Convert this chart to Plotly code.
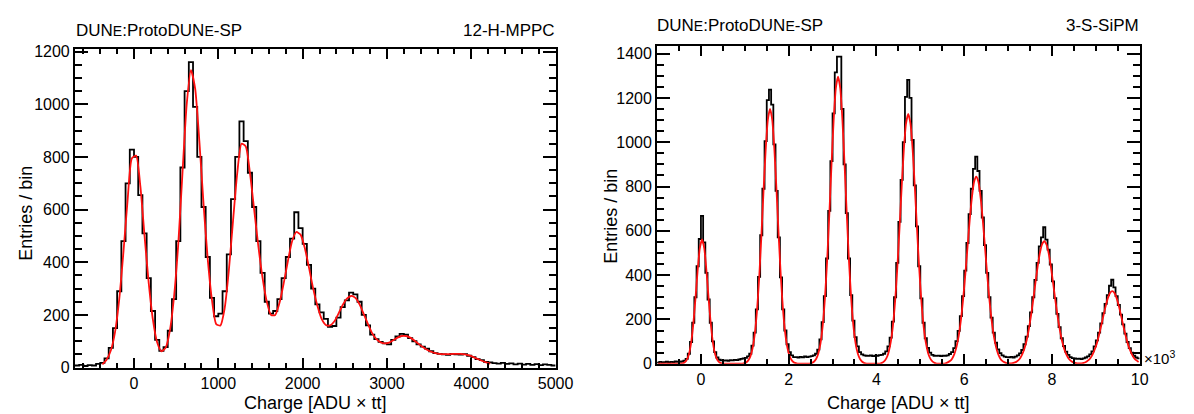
import plotly.graph_objects as go

# ---------------- data ----------------
# Left panel: 12-H-MPPC, bins of 50 ADU x tt starting at -700
left_bin_start = -700
left_bin_width = 50
left_counts = [
    8, 10, 6, 9, 8, 14, 18, 35, 75, 150,
    290, 480, 700, 828, 800, 655, 510, 340, 215, 105,
    64, 78, 140, 260, 480, 760, 1050, 1160, 990, 800,
    610, 420, 265, 195, 205, 290, 430, 640, 800, 935,
    860, 740, 610, 480, 360, 250, 205, 215, 260, 340,
    420, 490, 590, 530, 470, 390, 300, 240, 210, 185,
    155, 158, 190, 230, 255, 285, 278, 250, 200, 160,
    125, 108, 98, 92, 88, 105, 118, 128, 125, 112,
    100, 88, 80, 72, 62, 55, 52, 50, 48, 52,
    50, 49, 51, 45, 40, 32, 28, 22, 20, 17,
    15, 18, 14, 16, 12, 15, 11, 14, 10, 13,
    9, 12, 10, 8,
]
left_fit = [None] * 6 + [
    12, 30, 65, 135, 260, 440, 640, 795, 805, 690,
    500, 320, 180, 95, 62, 75, 140, 270, 470, 740,
    1000, 1130, 1060, 860, 620, 410, 255, 165, 160, 225,
    370, 560, 740, 850, 840, 740, 600, 460, 340, 250,
    200, 200, 245, 320, 405, 480, 515, 505, 455, 380,
    300, 235, 185, 162, 160, 175, 205, 238, 262, 272,
    265, 240, 203, 165, 130, 108, 96, 92, 95, 104,
    114, 120, 120, 114, 103, 90, 78, 68, 60, 55,
    52, 51, 51, 52, 52, 52, 50, 46, 40, 33,
    26, 20, 15,
] + [None] * 15

# Right panel: 3-S-SiPM, bins of 50 ADU x tt starting at -1000
right_bin_start = -1000
right_bin_width = 50
right_counts = (
    [5, 8, 6, 7, 9, 6, 8, 7, 10, 8, 9]
    + [10, 14, 22, 45, 98, 185, 300, 440, 563, 667, 548, 410, 290, 185, 101, 52, 28, 18, 15]
    + [14, 15, 13, 16, 15, 17, 16, 19, 22]
    + [24, 26, 33, 45, 82, 140, 245, 392, 580, 790, 1005, 1190, 1237, 1170, 990, 780, 570, 390, 245, 150, 88, 52, 38, 30, 30]
    + [28, 31, 29, 33, 30, 32]
    + [34, 38, 45, 64, 110, 188, 305, 475, 690, 915, 1130, 1315, 1386, 1386, 1150, 900, 680, 475, 310, 195, 120, 78, 52, 42, 38]
    + [36, 35, 38, 34, 37, 36, 39]
    + [40, 45, 56, 78, 118, 190, 300, 455, 640, 830, 1000, 1205, 1281, 1200, 1010, 805, 620, 440, 295, 185, 115, 72, 50, 40, 36]
    + [35, 37, 34, 36]
    + [36, 38, 44, 52, 70, 102, 148, 215, 305, 420, 545, 675, 790, 880, 935, 870, 780, 660, 535, 410, 300, 208, 140, 95, 65, 48, 38, 32, 30]
    + [29, 31]
    + [28, 32, 38, 47, 62, 88, 122, 170, 232, 300, 378, 455, 530, 570, 616, 560, 515, 448, 372, 296, 225, 165, 115, 80, 55, 40, 30, 25, 24]
    + [22, 23, 21]
    + [24, 28, 33, 42, 56, 78, 105, 140, 182, 228, 270, 310, 352, 379, 345, 305, 265, 222, 178, 136, 98, 70, 50, 36, 28, 24]
)
right_fit = (
    [0] * 11
    + [2, 6, 17, 42, 93, 178, 294, 421, 522, 561, 522, 421, 294, 178, 93, 42, 17, 6, 2]
    + [0] * 9
    + [2, 5, 14, 32, 68, 131, 233, 380, 566, 772, 964, 1101, 1150, 1101, 964, 772, 566, 380, 233, 131, 68, 32, 14, 5, 2]
    + [0] * 6
    + [3, 9, 21, 46, 92, 171, 293, 461, 670, 894, 1099, 1244, 1296, 1244, 1099, 894, 670, 461, 293, 171, 92, 46, 21, 9, 3]
    + [0] * 7
    + [4, 11, 24, 50, 96, 170, 281, 430, 608, 797, 967, 1085, 1128, 1085, 967, 797, 608, 430, 281, 170, 96, 50, 24, 11, 4]
    + [0] * 4
    + [2, 6, 12, 23, 43, 76, 126, 197, 289, 401, 524, 646, 749, 820, 844, 820, 749, 646, 524, 401, 289, 197, 126, 76, 43, 23, 12, 6, 2]
    + [1, 2]
    + [4, 7, 14, 25, 43, 70, 107, 158, 220, 291, 367, 439, 499, 539, 553, 539, 499, 439, 367, 291, 220, 158, 107, 70, 43, 25, 14, 7, 4]
    + [2, 2, 2]
    + [4, 8, 15, 25, 41, 64, 93, 131, 173, 218, 260, 296, 320, 328, 320, 296, 260, 218, 173, 131, 93, 64, 41, 25, 15, 8]
)

left_xticks = [0, 1000, 2000, 3000, 4000, 5000]
left_yticks = [0, 200, 400, 600, 800, 1000, 1200]
right_xticks = [0, 2000, 4000, 6000, 8000, 10000]
right_xlabels = ["0", "2", "4", "6", "8", "10"]
right_yticks = [0, 200, 400, 600, 800, 1000, 1200, 1400]

left_range_x = [-700, 5000]
left_range_y = [0, 1211]
right_range_x = [-1000, 10000]
right_range_y = [0, 1435]

# ---------------- helpers ----------------
def step_xy(start, width, counts):
    xs = [start + width * i for i in range(len(counts) + 1)]
    ys = list(counts) + [counts[-1]]
    return xs, ys


def centers(start, width, n):
    return [start + width * (i + 0.5) for i in range(n)]


W, H = 1194, 414
FONT = "Liberation Sans, Arial, Helvetica, sans-serif"

fig = go.Figure()

lx, ly = step_xy(left_bin_start, left_bin_width, left_counts)
fig.add_trace(go.Scatter(x=lx, y=ly, mode="lines", line=dict(color="black", width=1.8, shape="hv"),
                         xaxis="x", yaxis="y", showlegend=False, hoverinfo="skip"))
fig.add_trace(go.Scatter(x=centers(left_bin_start, left_bin_width, len(left_fit)), y=left_fit, mode="lines",
                         line=dict(color="#ff1010", width=1.8, shape="spline", smoothing=0.6),
                         xaxis="x", yaxis="y", showlegend=False, hoverinfo="skip", connectgaps=False))

rx, ry = step_xy(right_bin_start, right_bin_width, right_counts)
fig.add_trace(go.Scatter(x=rx, y=ry, mode="lines", line=dict(color="black", width=1.8, shape="hv"),
                         xaxis="x2", yaxis="y2", showlegend=False, hoverinfo="skip"))
fig.add_trace(go.Scatter(x=centers(right_bin_start, right_bin_width, len(right_fit)), y=right_fit, mode="lines",
                         line=dict(color="#ff1010", width=1.8, shape="spline", smoothing=0.6),
                         xaxis="x2", yaxis="y2", showlegend=False, hoverinfo="skip"))

def px_x(p):
    return p / W

def px_y(p):
    return 1 - p / H

axis_common = dict(showgrid=False, zeroline=False, showline=True, linecolor="black", linewidth=2,
                   mirror="ticks", ticks="inside", tickcolor="black", tickwidth=1.5,
                   tickfont=dict(family=FONT, size=16, color="black"))

fig.update_layout(
    width=W, height=H,
    margin=dict(l=0, r=0, t=0, b=0),
    paper_bgcolor="white", plot_bgcolor="white",
    xaxis=dict(domain=[px_x(68), px_x(556)], range=left_range_x, anchor="y",
               tickmode="array", tickvals=left_xticks, ticklen=10,
               minor=dict(dtick=200, tick0=0, ticks="inside", ticklen=5, tickwidth=1.5, tickcolor="black"),
               **axis_common),
    yaxis=dict(domain=[px_y(367), px_y(37)], range=left_range_y, anchor="x",
               tickmode="array", tickvals=left_yticks, ticklen=13,
               minor=dict(dtick=50, tick0=0, ticks="inside", ticklen=7, tickwidth=1.5, tickcolor="black"),
               **axis_common),
    xaxis2=dict(domain=[px_x(659), px_x(1149)], range=right_range_x, anchor="y2",
                tickmode="array", tickvals=right_xticks, ticktext=right_xlabels, ticklen=10,
                minor=dict(dtick=500, tick0=0, ticks="inside", ticklen=5, tickwidth=1.5, tickcolor="black"),
                **axis_common),
    yaxis2=dict(domain=[px_y(363), px_y(34)], range=right_range_y, anchor="x2",
                tickmode="array", tickvals=right_yticks, ticklen=13,
                minor=dict(dtick=50, tick0=0, ticks="inside", ticklen=7, tickwidth=1.5, tickcolor="black"),
                **axis_common),
)

small_e = "<span style='font-size:14px'>E</span>"
title_txt = f"DUN{small_e}:ProtoDUN{small_e}-SP"
tfont = dict(family=FONT, size=17, color="black")
afont = dict(family=FONT, size=18, color="black")

ann = [
    dict(text=title_txt, x=px_x(67), y=px_y(18), xanchor="left", yanchor="middle", font=tfont),
    dict(text="12-H-MPPC", x=px_x(557), y=px_y(18), xanchor="right", yanchor="middle", font=tfont),
    dict(text=title_txt, x=px_x(657), y=px_y(13), xanchor="left", yanchor="middle", font=tfont),
    dict(text="3-S-SiPM", x=px_x(1150), y=px_y(13), xanchor="right", yanchor="middle", font=tfont),
    dict(text="Charge [ADU \u00d7 tt]", x=px_x(312), y=px_y(404), xanchor="center", yanchor="middle", font=afont),
    dict(text="Charge [ADU \u00d7 tt]", x=px_x(904), y=px_y(404), xanchor="center", yanchor="middle", font=afont),
    dict(text="Entries / bin", x=px_x(18), y=px_y(207), xanchor="center", yanchor="middle", textangle=-90, font=afont),
    dict(text="Entries / bin", x=px_x(612), y=px_y(210), xanchor="center", yanchor="middle", textangle=-90, font=afont),
    dict(text="\u00d710<sup>3</sup>", x=px_x(1151), y=px_y(357), xanchor="left", yanchor="middle",
         font=dict(family=FONT, size=15, color="black")),
]
for a in ann:
    a.update(xref="paper", yref="paper", showarrow=False)
fig.update_layout(annotations=ann)

fig.write_html("out.html")
